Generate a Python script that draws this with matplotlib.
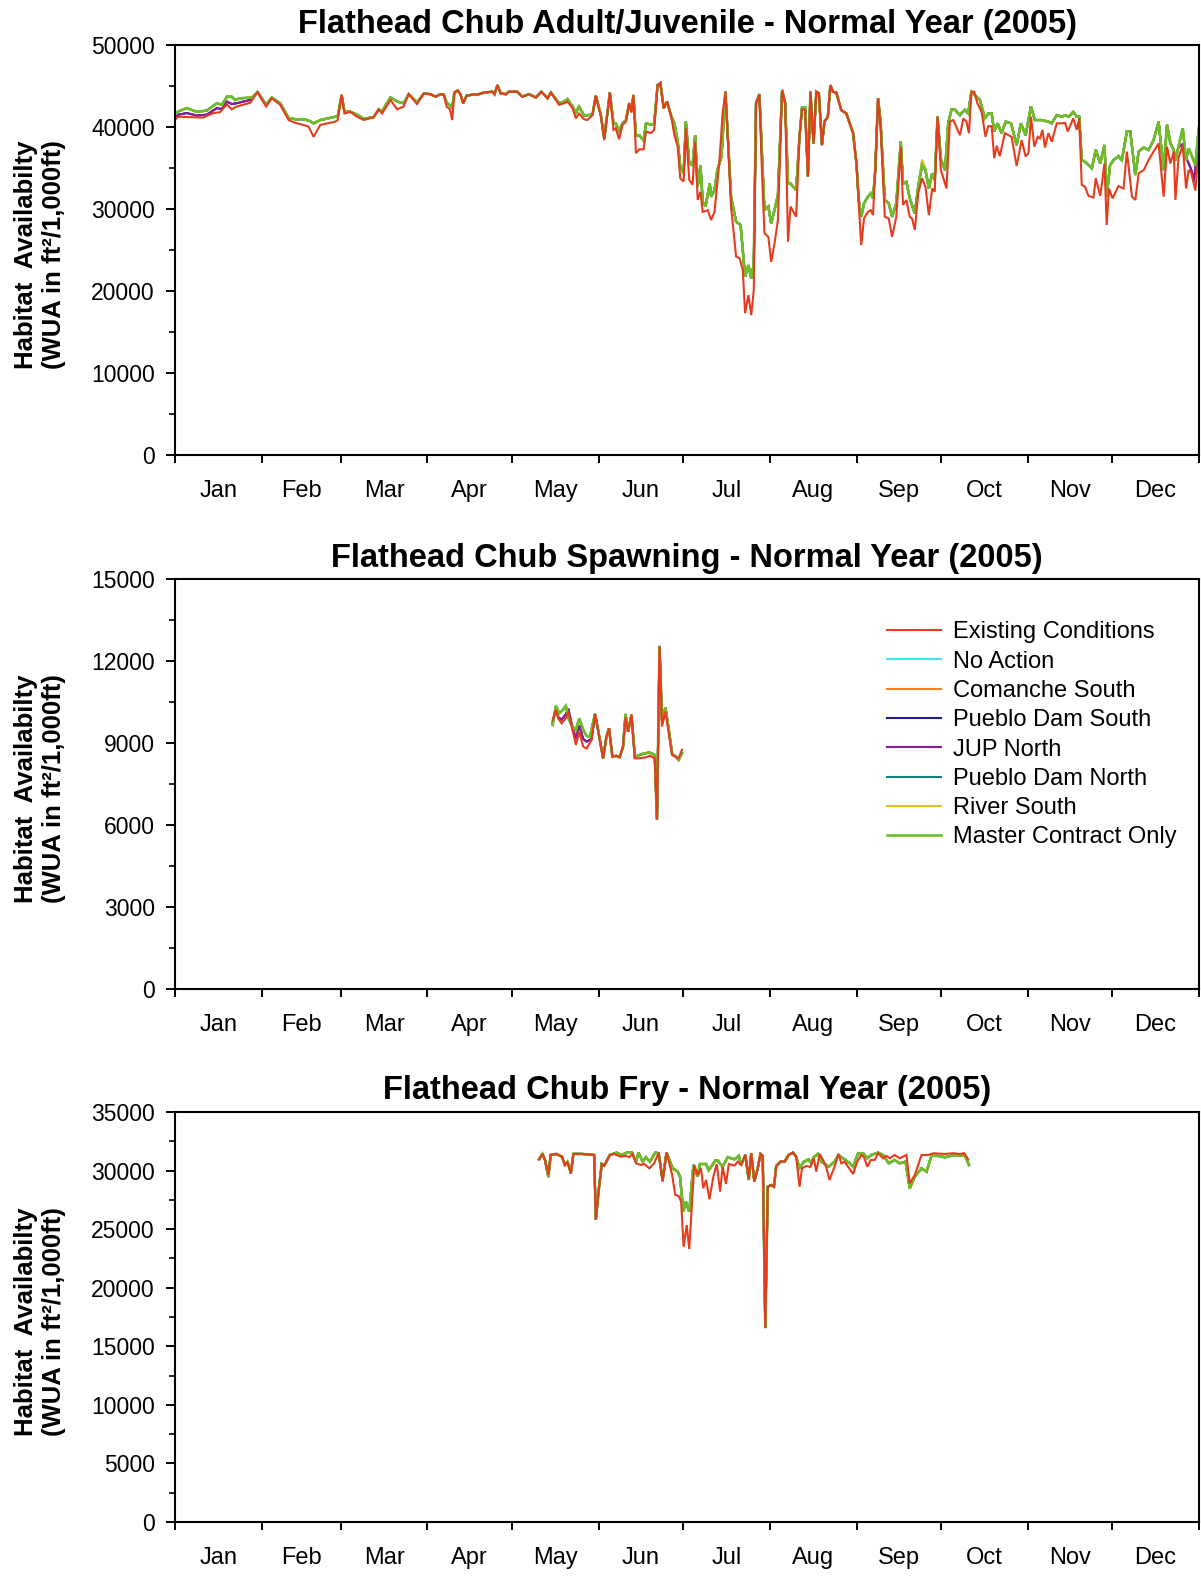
import matplotlib
matplotlib.use("Agg")
import matplotlib.pyplot as plt
from matplotlib.ticker import FixedLocator, FixedFormatter, MultipleLocator

plt.rcParams['font.family'] = ['Liberation Sans', 'DejaVu Sans']

# x axis: day of year (0 = Jan 1)
MONTHS = ["Jan", "Feb", "Mar", "Apr", "May", "Jun", "Jul", "Aug", "Sep", "Oct", "Nov", "Dec"]
MONTH_START = [0, 31, 59, 90, 120, 151, 181, 212, 243, 273, 304, 334, 365]

SCENARIOS = ["Existing Conditions", "No Action", "Comanche South", "Pueblo Dam South",
             "JUP North", "Pueblo Dam North", "River South", "Master Contract Only"]
COLORS = {
    "Existing Conditions": "#e63c1e",
    "No Action": "#3fe6f2",
    "Comanche South": "#f5821f",
    "Pueblo Dam South": "#1c1c8c",
    "JUP North": "#8a1c9a",
    "Pueblo Dam North": "#178080",
    "River South": "#e8c21e",
    "Master Contract Only": "#6cbf2a",
}

# ---------- Adult/Juvenile (day, WUA) ----------
adult_existing = [
    (0, 40900), (1.2, 41250), (5.4, 41200), (10, 41150), (13.7, 41700), (16, 41800), (18.5, 42750),
    (20.2, 42150), (22, 42500), (26.8, 42950), (29.4, 44250), (32.5, 42500), (34.5, 43500), (37.5, 42700),
    (40.5, 40850), (42.9, 40500), (45.8, 40250), (47.6, 40050), (49.4, 38800), (51.8, 40250), (57.1, 40650),
    (58, 40850), (59.4, 43900), (60.4, 41650), (62.5, 41850), (64.9, 41250), (67.3, 40850), (70.8, 41200),
    (72.6, 42150), (73.8, 41650), (76.8, 43300), (79.2, 42150), (81.5, 42500), (83.3, 44000), (86.3, 42800),
    (88.7, 44100), (91, 44000), (92.9, 43700), (94.6, 44000), (95.8, 43950), (96.8, 42500), (98, 42150),
    (98.8, 40850), (99.6, 44200), (100.8, 44450), (101.8, 43950), (102.7, 42900), (103.9, 43800), (106, 43950),
    (108.3, 44000), (110.1, 44200), (113.1, 44300), (113.9, 44000), (114.9, 45100), (116.1, 44100),
    (117.9, 44000), (119, 44300), (122, 44300), (123.8, 43700), (126.2, 44000), (128.6, 43600), (130.6, 44300),
    (132.8, 43500), (134, 44200), (136.9, 42700), (138.7, 42900), (139.9, 43100), (141.7, 42300),
    (142.9, 41050), (144, 41650), (145.8, 40950), (147, 40850), (148.8, 41450), (150, 43800), (151.8, 41250),
    (153, 38400), (155, 44200), (156.3, 39650), (157.1, 39850), (158.3, 38500), (159.5, 40250), (160.7, 40650),
    (161.9, 42900), (162.7, 41750), (163.4, 43900), (164.3, 36800), (165.5, 37300), (167, 37250),
    (167.9, 39450), (169.6, 39250), (170.8, 39650), (172, 45100), (173, 45350), (174.2, 42300), (175.4, 43100),
    (176.8, 41400), (178, 39000), (179.2, 37600), (180.1, 33750), (181.3, 33350), (182.1, 39850),
    (183.3, 33550), (184.5, 32950), (185.4, 38200), (186.3, 31100), (187.3, 32100), (188.1, 29650),
    (189.9, 29850), (191.1, 28650), (192.3, 29650), (194, 35550), (195.2, 41650), (196.2, 44300),
    (197.3, 36800), (198.2, 30300), (200, 24200), (201.2, 24000), (202.4, 22550), (203.2, 17300),
    (204.4, 19500), (205.4, 17050), (206.3, 20100), (207.1, 42900), (208.3, 44000), (209.2, 34750),
    (210.1, 27050), (211.5, 26600), (212.5, 23550), (213.7, 25800), (214.9, 28650), (216.4, 44500),
    (217.5, 42900), (218.5, 26000), (219.4, 30300), (221.4, 29050), (222.6, 38800), (223.5, 42150),
    (224.6, 42100), (225.6, 33950), (226.5, 44300), (227.6, 38000), (228.6, 44300), (229.5, 44100),
    (230.6, 37800), (231.5, 40650), (232.7, 41250), (233.6, 45100), (234.5, 44300), (235.7, 44200),
    (237.5, 42050), (239.3, 41650), (241.7, 39250), (242.9, 35550), (243.7, 30700), (244.6, 25600),
    (245.6, 28850), (247, 29650), (248, 29850), (248.8, 29250), (249.6, 34750), (250.6, 43500), (251.5, 40050),
    (253, 29050), (254.4, 28850), (255.6, 26600), (257.1, 29050), (258.7, 37600), (259.5, 30500),
    (260.7, 31100), (261.9, 29050), (262.7, 28850), (263.7, 27450), (264.9, 31900), (266.3, 33750),
    (267.5, 32700), (268.7, 29250), (269.9, 32500), (270.8, 32100), (271.8, 41250), (273, 34750), (275, 32500),
    (276.2, 40650), (277.4, 40850), (279.8, 39000), (281, 41050), (282.1, 40650), (283, 39250), (283.9, 44300),
    (284.9, 44300), (286, 42900), (287.5, 41850), (288.9, 38800), (289.9, 40100), (291.1, 40100), (292, 36200),
    (292.9, 37700), (294, 36450), (295.8, 39250), (298.2, 38800), (300, 35250), (301.8, 38400), (303.2, 36400),
    (304.2, 36800), (305.1, 41250), (306.3, 37600), (307.5, 38800), (308.3, 38600), (309.2, 39650),
    (310.1, 37500), (311.3, 39250), (312.5, 38200), (314.3, 40450), (316.1, 40450), (317.3, 40500),
    (318.2, 39450), (320.2, 41050), (321.4, 39650), (322.3, 41050), (323.2, 32950), (324.4, 32700),
    (325.6, 31600), (327.4, 31400), (328.2, 33750), (329.8, 31600), (331.3, 35550), (332.1, 28050),
    (332.9, 32500), (334.2, 31300), (336.3, 32800), (338.1, 32500), (339.3, 37000), (341.1, 31500),
    (342.3, 31100), (343.5, 34350), (345.3, 34750), (347, 35950), (348.8, 37000), (350.6, 38000),
    (352.4, 31500), (353.6, 37600), (354.8, 35550), (356, 37000), (356.6, 31100), (357.7, 36200),
    (359.2, 37800), (360.4, 32500), (361.3, 34750), (362.3, 34350), (363.7, 32250), (364.9, 37000),
]
adult_master = [
    (0, 41650), (1.2, 41900), (4.2, 42300), (7.7, 41850), (11.3, 42000), (14.9, 42900), (16.7, 42700),
    (18.5, 43700), (20.2, 43700), (21.4, 43300), (23.2, 43500), (27.4, 43600), (29.4, 44250), (32.5, 42700),
    (34.5, 43600), (37.5, 42900), (40.5, 41100), (42.9, 40950), (45.8, 40950), (47.6, 40800), (49.4, 40450),
    (51.8, 40850), (57.1, 41250), (58, 41300), (59.4, 43900), (60.4, 41900), (62.5, 41850), (64.9, 41500),
    (67.3, 41000), (70.8, 41200), (72.6, 42150), (73.8, 41900), (76.8, 43600), (79.2, 43100), (81.5, 42900),
    (83.3, 44000), (86.3, 43000), (88.7, 44100), (91, 44000), (92.9, 43700), (94.6, 44000), (95.8, 43950),
    (96.8, 43000), (98, 42600), (98.8, 42400), (99.6, 44200), (100.8, 44450), (101.8, 43950), (102.7, 42900),
    (103.9, 43800), (106, 43950), (108.3, 44000), (110.1, 44200), (113.1, 44300), (113.9, 44000),
    (114.9, 45100), (116.1, 44100), (117.9, 44000), (119, 44300), (122, 44300), (123.8, 43700), (126.2, 44000),
    (128.6, 43600), (130.6, 44300), (132.8, 43500), (134, 44200), (136.9, 42900), (138.7, 43100),
    (139.9, 43400), (141.7, 42500), (142.9, 41700), (144, 42500), (145.8, 41400), (147, 41450), (148.8, 41500),
    (150, 43800), (151.8, 41500), (153, 38600), (155, 44200), (156.3, 40450), (157.1, 40450), (158.3, 39450),
    (159.5, 40450), (160.7, 40800), (161.9, 42900), (162.7, 41900), (163.4, 43900), (164.3, 38900),
    (165.5, 39000), (167, 38350), (167.9, 40450), (169.6, 40300), (170.8, 40400), (172, 45100), (173, 45350),
    (174.2, 42300), (175.4, 43100), (176.8, 41400), (178, 40450), (179.2, 38200), (180.1, 35150),
    (181.3, 34350), (182.1, 40650), (183.3, 35550), (184.5, 35350), (185.4, 39000), (186.3, 32700),
    (187.3, 35350), (188.1, 30900), (189.1, 30300), (190.6, 33100), (191.1, 31500), (192.3, 32300),
    (193.3, 34750), (194.8, 36400), (196.2, 44300), (197.3, 37200), (198.2, 31500), (200, 28450),
    (201.6, 28050), (203.2, 21750), (204.4, 23150), (205.4, 21550), (206.3, 23300), (207.1, 42900),
    (208.3, 44000), (209.2, 36800), (210.1, 29900), (211.5, 30300), (212.5, 28250), (213.7, 29900),
    (214.9, 31700), (216.4, 44500), (217.5, 42900), (218.5, 33100), (219.4, 33100), (221.4, 32300),
    (222.6, 38800), (223.5, 42400), (224.6, 42400), (225.6, 33950), (226.5, 44300), (227.6, 38000),
    (228.6, 44300), (229.5, 44100), (230.6, 37800), (231.5, 40650), (232.7, 41250), (233.6, 45100),
    (234.5, 44300), (235.7, 44200), (237.5, 42050), (239.3, 41650), (241.7, 39250), (242.9, 35550),
    (243.7, 31100), (244.6, 29050), (245.6, 30700), (247, 31500), (248, 31900), (248.8, 31300), (249.6, 34750),
    (250.6, 43500), (251.5, 40650), (253, 31100), (254.4, 30700), (255.6, 29050), (257.1, 30700),
    (258.7, 38200), (259.5, 33100), (260.7, 33300), (261.9, 31300), (263.7, 29450), (264.9, 32700),
    (266.3, 35350), (267.5, 34750), (268.7, 32500), (269.9, 34350), (270.8, 33500), (271.8, 41250),
    (273, 36050), (274.5, 34750), (275.6, 40450), (276.8, 42150), (278, 42100), (279.8, 41450), (281.5, 42100),
    (282.7, 41650), (283.9, 44300), (285.7, 43700), (286.9, 43300), (288.7, 41050), (289.9, 41650),
    (291.1, 41650), (292, 39450), (293.2, 40450), (294.6, 39250), (296.1, 40650), (298, 40450), (300, 37800),
    (301.5, 40450), (303.2, 39000), (305.1, 42500), (306.5, 40850), (308.9, 40850), (311.3, 40650),
    (312.5, 40450), (314.3, 41450), (316.1, 41250), (317.3, 41450), (318.5, 41250), (320.2, 41850),
    (321.4, 41250), (322.3, 41250), (323.2, 36050), (325, 35550), (326.8, 34950), (328.2, 37200),
    (329.8, 35550), (331.3, 37800), (332.1, 31500), (333.3, 35350), (334.5, 35950), (336.3, 36450),
    (337.5, 35950), (339.3, 39450), (340.5, 39450), (342.3, 34150), (343.5, 37000), (345.3, 37500),
    (347, 37200), (348.8, 38400), (350.6, 40650), (352.4, 34750), (353.6, 40250), (354.8, 38000), (356, 37200),
    (356.6, 35950), (357.7, 37600), (359.2, 39850), (360.4, 35950), (361.3, 37400), (362.3, 36600),
    (363.7, 35350), (364.9, 39850), (365, 40000),
]
# Pueblo Dam South / JUP North depart from the others in Jan and Dec
adult_jup_jan = [(0, 41200), (1.2, 41500), (4.2, 41700), (7.7, 41400), (11.3, 41500), (14.9, 42300),
                 (16.7, 42200), (18.5, 43100), (20.2, 42800), (22, 42900), (26.8, 43300)]
adult_jup_dec = [(358, 37600), (359.2, 37900), (360.4, 36300), (361.3, 35550), (362.3, 34750),
                 (363.1, 33350), (364.9, 38200), (365, 37800)]
adult_river_sep = [(264.9, 32700), (266.3, 36000), (267.5, 34900)]

# ---------- Spawning ----------
spawn_existing = [
    (134.6, 9840), (135.8, 10210), (136.6, 9900), (137.8, 9720), (139.3, 9900), (140.2, 10150), (141.4, 9600),
    (142.9, 8930), (144.1, 9410), (145.5, 8870), (146.7, 8800), (148.5, 9110), (149.7, 10060), (150.8, 9480),
    (152.6, 8440), (153.8, 9230), (154.7, 9540), (155.9, 8500), (157.3, 8530), (158.5, 8480), (159.7, 8870),
    (160.6, 9940), (161.5, 9410), (162.7, 10030), (163.9, 8440), (165.6, 8440), (168, 8480), (169.2, 8530),
    (171, 8440), (171.8, 6200), (172.7, 12550), (173.6, 9600), (174.8, 10150), (176, 9350), (177.2, 8560),
    (178.6, 8480), (179.5, 8440), (180.7, 8750),
]
spawn_master = [
    (134.6, 9660), (135.8, 10360), (136.9, 10090), (138.2, 10200), (139.3, 10360), (140.5, 9840),
    (141.7, 9600), (142.9, 9480), (144.1, 9900), (145.5, 9480), (146.7, 9260), (147.9, 9230), (149.7, 10060),
    (150.8, 9480), (152.6, 8440), (153.8, 9230), (154.7, 9540), (155.9, 8500), (157.3, 8530), (158.5, 8480),
    (159.7, 8870), (160.6, 10060), (161.5, 9410), (162.7, 10030), (163.9, 8500), (167.3, 8620), (169.2, 8650),
    (171, 8560), (171.8, 6200), (172.7, 12550), (173.6, 9800), (174.8, 10300), (176, 9500), (177.2, 8600),
    (178.6, 8500), (179.5, 8380), (180.7, 8620),
]
spawn_jup_may = [(134.6, 9750), (135.8, 10300), (136.6, 9950), (137.8, 9850), (139.3, 10050), (140.2, 10250),
                 (141.4, 9700), (142.9, 9150), (144.1, 9650), (145.5, 9150), (146.7, 9050), (148.5, 9150)]

# ---------- Fry ----------
fry_existing = [
    (129.8, 30960), (131, 31420), (131.9, 30900), (133.1, 29620), (133.9, 31330), (135.9, 31420),
    (137.9, 31190), (139, 30480), (139.9, 30760), (141.1, 29770), (142, 31420), (145.2, 31420), (149.4, 31330),
    (150, 25800), (150.9, 28060), (152.1, 30560), (153, 30420), (155, 31330), (156.5, 31420), (158.9, 31190),
    (160.7, 31250), (161.9, 31140), (163.1, 31420), (164.3, 30620), (166.1, 30480), (167.3, 30560),
    (169.1, 30190), (170.8, 30620), (172.4, 31530), (173.8, 29050), (175.2, 31530), (177.1, 29770),
    (178.3, 27920), (179.5, 27830), (180.4, 27350), (181.3, 23500), (182.4, 25350), (183.3, 23300),
    (185.1, 30480), (186.3, 29620), (187.5, 30190), (188.3, 28490), (189.3, 29200), (190.5, 27550),
    (191.9, 29480), (193.1, 30560), (194.3, 28200), (195.2, 30330), (196.4, 28850), (197.4, 30560),
    (199.4, 30420), (200.6, 30760), (201.8, 30480), (203.3, 31330), (204.5, 29260), (205.4, 31480),
    (206.5, 29050), (207.7, 30190), (208.7, 31420), (209.5, 31250), (210.4, 16560), (211.3, 28620),
    (212.5, 28770), (213.5, 28620), (214.3, 30390), (215.8, 30760), (217.3, 30760), (218.7, 31330),
    (220.3, 31530), (221.4, 31190), (222.6, 28620), (223.5, 30190), (225, 30390), (226.5, 30300),
    (227.7, 31050), (228.6, 29910), (229.8, 31420), (231.3, 30760), (232.1, 30300), (233.3, 29200),
    (235.1, 30330), (236.5, 31420), (237.5, 30620), (238.7, 30760), (239.9, 30330), (241.7, 29710),
    (243.2, 30760), (244.6, 31330), (245.6, 31140), (246.8, 30330), (248, 30900), (249.4, 30900),
    (250.6, 31480), (252.4, 31050), (253.6, 31250), (254.8, 31050), (256.5, 31330), (258.3, 31050),
    (260.7, 31330), (261.9, 28910), (263.7, 29620), (264.9, 30480), (266.1, 31330), (268.5, 31330),
    (270.3, 31480), (274.4, 31420), (277.4, 31480), (279.8, 31420), (281.3, 31480), (282.7, 30960),
]
fry_master = [
    (129.8, 30960), (131, 31420), (131.9, 30900), (133.1, 29450), (133.9, 31330), (135.9, 31420),
    (137.9, 31190), (139, 30480), (139.9, 30760), (141.1, 29770), (142, 31420), (145.2, 31420), (149.4, 31330),
    (150, 25800), (150.9, 28060), (152.1, 30560), (153, 30420), (155, 31330), (157.4, 31530), (159.2, 31330),
    (161, 31530), (162.9, 31530), (164.3, 30760), (165.2, 31530), (166.7, 30760), (167.9, 31140),
    (169.3, 30760), (171.2, 31530), (172.4, 31480), (173.8, 29200), (175.2, 31530), (177.4, 30190),
    (179.2, 29910), (180, 29480), (181.2, 26490), (182.1, 27350), (183.3, 26490), (184.8, 30480),
    (186.3, 29480), (187.1, 30560), (189.3, 30560), (190.2, 30020), (192.6, 30850), (193.5, 30850),
    (195.2, 30330), (197, 31140), (199.4, 30960), (201, 31250), (201.8, 30480), (203.3, 31330), (204.5, 29200),
    (205.4, 31480), (206.5, 29050), (207.7, 30190), (208.7, 31420), (209.5, 31250), (210.4, 16560),
    (211.3, 28620), (212.5, 28770), (213.5, 28620), (214.3, 30390), (215.8, 30760), (217.3, 30760),
    (218.7, 31330), (220.3, 31530), (221.4, 31190), (222.6, 30190), (224.2, 30760), (225.8, 30960),
    (226.8, 30620), (227.7, 31140), (229.2, 31420), (230.4, 30760), (233, 30330), (235.1, 30760),
    (236.5, 31330), (238.1, 31050), (240.5, 30620), (241.7, 30330), (243.5, 31480), (245.3, 31480),
    (246.8, 31050), (248.2, 31330), (250.6, 31530), (252.4, 31330), (254.4, 30620), (256.5, 30900),
    (258.3, 30620), (260.4, 30760), (261.9, 28490), (263.7, 29480), (266.1, 30190), (267.9, 29910),
    (269.6, 31250), (272, 31250), (274.4, 31140), (278, 31330), (279.8, 31250), (281.5, 31330), (283, 30480),
]


def patch(base, piece):
    lo, hi = piece[0][0], piece[-1][0]
    pts = sorted([p for p in base if p[0] < lo or p[0] > hi] + piece)
    return pts


def build(existing, master, jup_pieces=(), river_pieces=()):
    jup = master
    for pc in jup_pieces:
        jup = patch(jup, pc)
    river = master
    for pc in river_pieces:
        river = patch(river, pc)
    return {
        "Existing Conditions": existing,
        "No Action": river,
        "Comanche South": master,
        "Pueblo Dam South": jup,
        "JUP North": jup,
        "Pueblo Dam North": master,
        "River South": river,
        "Master Contract Only": master,
    }


DRAW_ORDER = ["No Action", "Comanche South", "Pueblo Dam South", "JUP North",
              "Pueblo Dam North", "River South", "Master Contract Only", "Existing Conditions"]
LW = {name: 1.5 for name in SCENARIOS}
LW["Master Contract Only"] = 1.9
LW["Existing Conditions"] = 1.5

W, H = 1201, 1576
fig = plt.figure(figsize=(W / 100, H / 100), dpi=100)


def panel(top_px, series, ymax, ystep, title, legend=False):
    ax = fig.add_axes([175 / W, 1 - (top_px + 410) / H, 1024 / W, 410 / H])
    lines = {}
    for name in DRAW_ORDER:
        pts = series[name]
        lines[name], = ax.plot([p[0] for p in pts], [p[1] for p in pts],
                               color=COLORS[name], lw=LW[name], solid_joinstyle='miter')
    ax.set_xlim(0, 365)
    ax.set_ylim(0, ymax)
    yt = list(range(0, ymax + 1, ystep))
    ax.set_yticks(yt)
    ax.set_yticklabels([str(t) for t in yt])
    ax.yaxis.set_minor_locator(MultipleLocator(ystep / 2))
    ax.set_xticks(MONTH_START)
    ax.set_xticklabels([])
    mids = [(MONTH_START[i] + MONTH_START[i + 1]) / 2 for i in range(12)]
    ax.xaxis.set_minor_locator(FixedLocator(mids))
    ax.xaxis.set_minor_formatter(FixedFormatter(MONTHS))
    for s in ax.spines.values():
        s.set_linewidth(1.5)
    ax.tick_params(axis='y', which='major', direction='out', length=6.5, width=1.4, labelsize=16.5, pad=8)
    ax.tick_params(axis='y', which='minor', direction='out', length=4.5, width=1.2)
    ax.tick_params(axis='x', which='major', direction='out', length=6, width=1.4)
    ax.tick_params(axis='x', which='minor', length=0, labelsize=17, pad=18)
    ax.set_title(title, fontsize=23.5, fontweight='bold', pad=9)
    fig.text(40 / W, 1 - (top_px + 210) / H, "Habitat  Availabilty\n(WUA in ft\u00b2/1,000ft)",
             rotation=90, ha='center', va='center', fontsize=18.5, fontweight='bold',
             multialignment='center', linespacing=1.2)
    if legend:
        ax.legend([lines[n] for n in SCENARIOS], SCENARIOS, loc='upper left',
                  bbox_to_anchor=(0.695, 0.897), frameon=False, fontsize=17, handlelength=2.3,
                  handletextpad=0.5, labelspacing=0.31, borderpad=0, borderaxespad=0)
    return ax


panel(45, build(adult_existing, adult_master, [adult_jup_jan, adult_jup_dec], [adult_river_sep]),
      50000, 10000, "Flathead Chub Adult/Juvenile - Normal Year (2005)")
panel(579, build(spawn_existing, spawn_master, [spawn_jup_may]),
      15000, 3000, "Flathead Chub Spawning - Normal Year (2005)", legend=True)
panel(1112, build(fry_existing, fry_master),
      35000, 5000, "Flathead Chub Fry - Normal Year (2005)")

fig.savefig("out.png", dpi=100)
